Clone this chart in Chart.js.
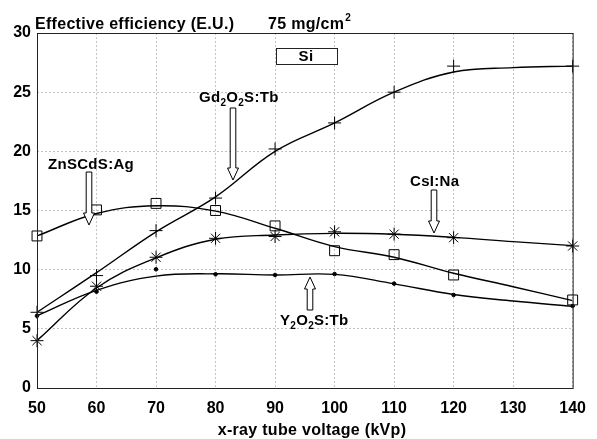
<!DOCTYPE html>
<html>
<head>
<meta charset="utf-8">
<script src="https://cdn.jsdelivr.net/npm/chart.js@4"></script>
<style>
  body { margin: 0; background: #fff; }
  canvas { display: block; }
</style>
</head>
<body>
<canvas id="chart" width="597" height="439"></canvas>
<script>
// x-ray tube voltage (kVp)
const kvp = [50, 60, 70, 80, 90, 100, 110, 120, 130, 140];
const yTicks = [0, 5, 10, 15, 20, 25, 30];

// measured points (null = no marker)
const gdPoints  = [6.4, 9.5, 13.3, 16.05, 20.2, 22.4, 25.0, 27.2, null, 27.2];
const znPoints  = [12.85, 15.05, 15.6, 15.0, 13.7, 11.6, 11.27, 9.55, null, 7.44];
const csiPoints = [4.0, 8.6, 11.05, 12.65, 12.8, 13.2, 13.0, 12.7, null, 12.0];
const yPoints   = [6.1, 8.14, 10.03, 9.61, 9.55, 9.63, 8.82, 7.86, null, 6.93];

// fitted curves
const gdCurve  = [6.4, 9.75, 13.2, 16.15, 20.0, 22.4, 25.0, 26.7, 27.07, 27.2];
const znCurve  = [12.85, 14.75, 15.4, 14.95, 13.5, 11.95, 11.05, 9.7, 8.56, 7.38];
const csiCurve = [4.0, 8.45, 11.0, 12.57, 12.93, 13.07, 12.99, 12.73, 12.37, 12.03];
const yCurve   = [6.1, 8.25, 9.45, 9.65, 9.55, 9.6, 8.8, 7.9, 7.35, 6.9];

const FONT = '"Liberation Sans", Arial, sans-serif';

function toXY(values) {
    const out = [];
    values.forEach((v, i) => {
        if (v !== null) out.push({ x: kvp[i], y: v });
    });
    return out;
}

function curve(values) {
    return {
        data: toXY(values),
        borderColor: '#000',
        borderWidth: 1.4,
        pointRadius: 0,
        tension: 0.4,
        fill: false,
    };
}

function markers(values, style, radius, fillColor) {
    return {
        data: toXY(values),
        showLine: false,
        pointStyle: style,
        pointRadius: radius,
        pointBorderColor: '#000',
        pointBackgroundColor: fillColor,
        pointBorderWidth: 1,
        clip: false,
    };
}

// text with subscripts: parts = [[text, isSub], ...]
function drawParts(ctx, parts, x, y) {
    let cx = x;
    parts.forEach(p => {
        ctx.font = p[1] ? 'bold 10px ' + FONT : 'bold 15px ' + FONT;
        ctx.fillText(p[0], cx, p[1] ? y + 4 : y);
        cx += ctx.measureText(p[0]).width;
    });
}

// hollow arrow, tip at (x, tipY), tail at tailY
function hollowArrow(ctx, x, tailY, tipY) {
    const dir = tipY > tailY ? 1 : -1;
    const headLen = 12, headW = 5.5, shaftW = 2.8;
    const base = tipY - dir * headLen;
    ctx.beginPath();
    ctx.moveTo(x - shaftW, tailY);
    ctx.lineTo(x + shaftW, tailY);
    ctx.lineTo(x + shaftW, base);
    ctx.lineTo(x + headW, base);
    ctx.lineTo(x, tipY);
    ctx.lineTo(x - headW, base);
    ctx.lineTo(x - shaftW, base);
    ctx.closePath();
    ctx.fillStyle = '#fff';
    ctx.fill();
    ctx.lineWidth = 1;
    ctx.strokeStyle = '#000';
    ctx.stroke();
}

const annotations = {
    id: 'annotations',
    afterDraw(chart) {
        const ctx = chart.ctx;
        const a = chart.chartArea;
        ctx.save();

        // frame
        ctx.strokeStyle = '#222';
        ctx.lineWidth = 1;
        ctx.strokeRect(a.left + 0.5, a.top + 0.5, a.right - a.left, a.bottom - a.top);

        ctx.fillStyle = '#000';
        ctx.textBaseline = 'alphabetic';
        ctx.textAlign = 'left';
        ctx.letterSpacing = '0.3px';

        // titles
        ctx.font = 'bold 16px ' + FONT;
        ctx.fillText('Effective efficiency (E.U.)', 35, 29);
        ctx.fillText('75 mg/cm', 268, 29);
        const w = ctx.measureText('75 mg/cm').width;
        ctx.font = 'bold 10px ' + FONT;
        ctx.fillText('2', 268 + w + 1, 21);

        ctx.font = 'bold 16px ' + FONT;
        ctx.textAlign = 'center';
        ctx.fillText('x-ray tube voltage (kVp)', 312, 435);

        // Si box
        ctx.fillStyle = '#fff';
        ctx.fillRect(276, 48, 61, 16);
        ctx.strokeStyle = '#222';
        ctx.strokeRect(276.5, 48.5, 61, 16);
        ctx.fillStyle = '#000';
        ctx.font = 'bold 15px ' + FONT;
        ctx.fillText('Si', 306, 61);

        // labels
        ctx.textAlign = 'left';
        drawParts(ctx, [['Gd', 0], ['2', 1], ['O', 0], ['2', 1], ['S:Tb', 0]], 199, 102);
        drawParts(ctx, [['ZnSCdS:Ag', 0]], 48, 169);
        drawParts(ctx, [['CsI:Na', 0]], 410, 186);
        drawParts(ctx, [['Y', 0], ['2', 1], ['O', 0], ['2', 1], ['S:Tb', 0]], 280, 325);
        ctx.letterSpacing = '0px';

        // arrows
        hollowArrow(ctx, 233, 108, 180);
        hollowArrow(ctx, 89, 172, 225);
        hollowArrow(ctx, 434, 190, 233);
        hollowArrow(ctx, 310, 310, 277);

        ctx.restore();
    }
};

new Chart(document.getElementById('chart'), {
    type: 'line',
    data: {
        datasets: [
            curve(gdCurve),
            curve(znCurve),
            curve(csiCurve),
            curve(yCurve),
            markers(gdPoints, 'cross', 6.5, 'rgba(0,0,0,0)'),
            markers(znPoints, 'rect', 7, 'rgba(0,0,0,0)'),
            markers(csiPoints, 'star', 6.5, 'rgba(0,0,0,0)'),
            markers(yPoints, 'circle', 1.8, '#000'),
        ],
    },
    options: {
        responsive: false,
        animation: false,
        devicePixelRatio: 1,
        layout: { padding: { top: 33, right: 21, left: 0, bottom: 0 } },
        plugins: {
            legend: { display: false },
            tooltip: { enabled: false },
        },
        scales: {
            x: {
                type: 'linear',
                min: 50,
                max: 140,
                ticks: {
                    stepSize: 10,
                    color: '#000',
                    padding: 11,
                    maxRotation: 0,
                    font: { family: FONT, size: 16, weight: 'bold' },
                },
                grid: { color: '#c2c2c2', lineWidth: 1, drawTicks: false },
                border: { display: false, dash: [2, 2] },
                afterFit(scale) { scale.height = 51; },
            },
            y: {
                min: 0,
                max: 30,
                afterBuildTicks(scale) {
                    scale.ticks = yTicks.map(v => ({ value: v }));
                },
                ticks: {
                    color: '#000',
                    padding: 6,
                    font: { family: FONT, size: 16, weight: 'bold' },
                },
                grid: { color: '#c2c2c2', lineWidth: 1, drawTicks: false },
                border: { display: false, dash: [2, 2] },
                afterFit(scale) { scale.width = 37; },
            },
        },
    },
    plugins: [annotations],
});
</script>
</body>
</html>
